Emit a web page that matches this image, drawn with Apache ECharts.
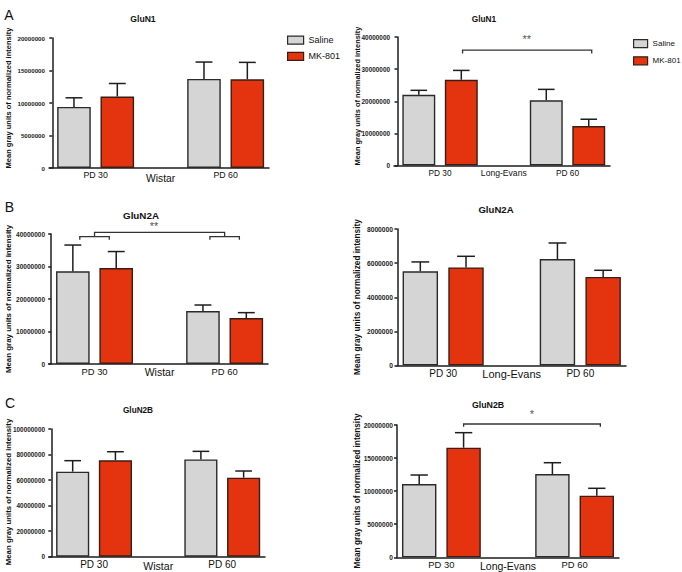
<!DOCTYPE html>
<html><head><meta charset="utf-8">
<script src="https://cdn.jsdelivr.net/npm/echarts@6/dist/echarts.min.js"></script>
<style>html,body{margin:0;padding:0;background:#fff}#c{width:682px;height:572px}</style>
</head><body><div id="c"></div>
<script>
// ---------- data ----------
const groupLabels = ['PD 30', 'PD 60'];
const strainLabels = ['Wistar', 'Long-Evans'];
const seriesNames = ['Saline', 'MK-801'];
const panelTitles = ['GluN1', 'GluN1', 'GluN2A', 'GluN2A', 'GluN2B', 'GluN2B'];
const panelLetters = ['A', 'B', 'C'];
const yAxisTitle = 'Mean gray units of normalized intensity';

// GluN1
const glun1WistarSaline    = [9.4e6, 13.7e6];
const glun1WistarSalineSem = [1.4e6, 2.6e6];
const glun1WistarMK        = [11.0e6, 13.65e6];
const glun1WistarMKSem     = [2.0e6, 2.6e6];
const glun1LESaline        = [22.0e6, 20.3e6];
const glun1LESalineSem     = [1.4e6, 3.4e6];
const glun1LEMK            = [26.7e6, 12.3e6];
const glun1LEMKSem         = [2.9e6, 2.1e6];
// GluN2A
const glun2aWistarSaline    = [28.5e6, 16.3e6];
const glun2aWistarSalineSem = [8.1e6, 1.85e6];
const glun2aWistarMK        = [29.5e6, 14.15e6];
const glun2aWistarMKSem     = [5.1e6, 1.65e6];
const glun2aLESaline        = [5.52e6, 6.24e6];
const glun2aLESalineSem     = [0.55e6, 0.94e6];
const glun2aLEMK            = [5.75e6, 5.19e6];
const glun2aLEMKSem         = [0.65e6, 0.39e6];
// GluN2B
const glun2bWistarSaline    = [66.6e6, 76.2e6];
const glun2bWistarSalineSem = [8.6e6, 6.3e6];
const glun2bWistarMK        = [75.5e6, 61.9e6];
const glun2bWistarMKSem     = [6.7e6, 5.2e6];
const glun2bLESaline        = [11.08e6, 12.59e6];
const glun2bLESalineSem     = [1.36e6, 1.71e6];
const glun2bLEMK            = [16.57e6, 9.32e6];
const glun2bLEMKSem         = [2.27e6, 1.11e6];

// y tick labels
const ticksGluN1Wistar  = [0, 5000000, 10000000, 15000000, 20000000];
const ticksGluN1LE      = [0, 10000000, 20000000, 30000000, 40000000];
const ticksGluN2AWistar = [0, 10000000, 20000000, 30000000, 40000000];
const ticksGluN2ALE     = [0, 2000000, 4000000, 6000000, 8000000];
const ticksGluN2BWistar = [0, 20000000, 40000000, 60000000, 80000000, 100000000];
const ticksGluN2BLE     = [0, 5000000, 10000000, 15000000, 20000000];

// significance annotations
const sigGluN1LE = ['**'];
const sigGluN2AWistar = ['**'];
const sigGluN2BLE = ['*'];

// ---------- layout ----------
const FONT = '"Liberation Sans", Arial, Helvetica, sans-serif';
const SAL_POS = [0.5, 3.5];
const MK_POS = [1.5, 4.5];
const LABEL_POS = [1, 2.5, 4];
const INK = '#1e1e1e';

const panels = [
  {grid:{left:49, top:38, width:220, height:130}, xMin:-0.076, ticks:ticksGluN1Wistar, strain:0,
   sal:glun1WistarSaline, salSem:glun1WistarSalineSem, mk:glun1WistarMK, mkSem:glun1WistarMKSem,
   catFs:8.8, strainFs:10.3, strainDy:3, tickFs:6.2, title:[143,19,8.6], name:[8,98,7.5], letter:0, labMargin:2},
  {grid:{left:394, top:37, width:216, height:128.5}, xMin:-0.084, ticks:ticksGluN1LE, strain:1,
   sal:glun1LESaline, salSem:glun1LESalineSem, mk:glun1LEMK, mkSem:glun1LEMKSem,
   catFs:8.3, strainFs:8.6, strainDy:0, tickFs:6.4, title:[484,19,8.3], name:[357,96,7.4], labMargin:3,
   brackets:[[1.53, 4.57, 35.9e6, 34.9e6]], stars:[[3.04, 39.3e6]], sig:sigGluN1LE},
  {grid:{left:49, top:234, width:219, height:130}, xMin:-0.05, ticks:ticksGluN2AWistar, strain:0,
   sal:glun2aWistarSaline, salSem:glun2aWistarSalineSem, mk:glun2aWistarMK, mkSem:glun2aWistarMKSem,
   catFs:9.4, strainFs:10.5, strainDy:0, tickFs:6.5, title:[141,215,9.8], name:[8,299,7.9], letter:1, labMargin:2.5,
   brackets:[[1, 4, 40.5e6, 39.2e6],[0.66, 1.34, 39.2e6, 38.2e6],[3.66, 4.34, 39.2e6, 38.2e6]],
   stars:[[2.37, 42.4e6]], sig:sigGluN2AWistar},
  {grid:{left:397, top:229, width:229, height:136.5}, xMin:-0.01, ticks:ticksGluN2ALE, strain:1,
   sal:glun2aLESaline, salSem:glun2aLESalineSem, mk:glun2aLEMK, mkSem:glun2aLEMKSem,
   catFs:10, strainFs:11, strainDy:0, tickFs:6.7, title:[496,209,9.6], name:[357,297,8.3], labMargin:2.5},
  {grid:{left:49, top:429, width:216, height:127.7}, xMin:-0.054, ticks:ticksGluN2BWistar, strain:0,
   sal:glun2bWistarSaline, salSem:glun2bWistarSalineSem, mk:glun2bWistarMK, mkSem:glun2bWistarMKSem,
   catFs:10, strainFs:10.6, strainDy:1.5, tickFs:6.4, title:[138,410,8.2], name:[8,492,7.8], letter:2, labMargin:2.5},
  {grid:{left:397, top:425, width:222, height:132.3}, xMin:0, ticks:ticksGluN2BLE, strain:1,
   sal:glun2bLESaline, salSem:glun2bLESalineSem, mk:glun2bLEMK, mkSem:glun2bLEMKSem,
   catFs:9.4, strainFs:10.5, strainDy:0, tickFs:6.6, title:[488,405,8.8], name:[357,491,8.25], labMargin:3,
   brackets:[[1.5, 4.58, 20.15e6, 19.74e6]], stars:[[3.04, 21.6e6]], sig:sigGluN2BLE}
];
const letterPos = [[9,15],[9.5,207],[10,403]];

const axisLineStyle = {color: INK, width: 1.5};
const grids = [], xAxes = [], yAxes = [], series = [], graphics = [];

panels.forEach((p, i) => {
  grids.push(Object.assign({containLabel:false}, p.grid));
  const slotPx = p.grid.width / (5 - p.xMin);
  const barW = slotPx * 0.775;
  xAxes.push({
    type:'value', gridIndex:i, min:p.xMin, max:5,
    axisLine:{show:true, onZero:false, lineStyle:axisLineStyle},
    axisTick:{show:false}, splitLine:{show:false},
    axisLabel:{
      customValues: LABEL_POS, margin:p.labMargin, color:'#111', fontFamily:FONT,
      formatter: v => {
        if (Math.abs(v - 2.5) < 1e-6) return '{s|' + strainLabels[p.strain] + '}';
        return '{p|' + (v < 2.5 ? groupLabels[0] : groupLabels[1]) + '}';
      },
      rich:{
        p:{fontSize:p.catFs, fontFamily:FONT, color:'#111'},
        s:{fontSize:p.strainFs, fontFamily:FONT, color:'#111', padding:[p.strainDy,0,0,0]}
      }
    }
  });
  const t = p.ticks;
  yAxes.push({
    type:'value', gridIndex:i, min:t[0], max:t[t.length-1], interval:t[1]-t[0],
    axisLine:{show:true, lineStyle:axisLineStyle},
    axisTick:{show:true, length:3, lineStyle:axisLineStyle},
    splitLine:{show:false},
    axisLabel:{fontSize:p.tickFs, fontWeight:'bold', margin:4, color:'#222', fontFamily:FONT,
      formatter: v => String(v)}
  });
  series.push({
    type:'bar', name:seriesNames[0], xAxisIndex:i, yAxisIndex:i, barWidth:barW, barGap:'-100%',
    data: p.sal.map((v,k) => [SAL_POS[k], v]), z:3,
    itemStyle:{color:'#d5d5d5', borderColor:'#2a2a2a', borderWidth:1.4}
  });
  series.push({
    type:'bar', name:seriesNames[1], xAxisIndex:i, yAxisIndex:i, barWidth:barW, barGap:'-100%',
    data: p.mk.map((v,k) => [MK_POS[k], v]), z:3,
    itemStyle:{color:'#e3340f', borderColor:'#3a1d14', borderWidth:1.4}
  });
  const errData = [];
  p.sal.forEach((v,k) => errData.push([SAL_POS[k], v, v + p.salSem[k]]));
  p.mk.forEach((v,k) => errData.push([MK_POS[k], v, v + p.mkSem[k]]));
  series.push({
    type:'custom', name:'err'+i, xAxisIndex:i, yAxisIndex:i, z:2, clip:false,
    encode:{x:0, y:[1,2]}, data: errData, silent:true,
    renderItem:(params, api) => {
      const x = api.value(0), m = api.value(1), u = api.value(2);
      const p0 = api.coord([x, m]), p1 = api.coord([x, u]);
      const half = slotPx * 0.195;
      const st = {stroke:INK, lineWidth:1.5};
      return {type:'group', children:[
        {type:'line', shape:{x1:p0[0], y1:p0[1], x2:p1[0], y2:p1[1]}, style:st},
        {type:'line', shape:{x1:p1[0]-half, y1:p1[1], x2:p1[0]+half, y2:p1[1]}, style:st}
      ]};
    }
  });
  if (p.brackets) {
    series.push({
      type:'custom', name:'br'+i, xAxisIndex:i, yAxisIndex:i, z:4, clip:false, silent:true,
      encode:{x:[0,1], y:[2,3]}, data:p.brackets,
      renderItem:(params, api) => {
        const a = api.coord([api.value(0), api.value(3)]);
        const b = api.coord([api.value(0), api.value(2)]);
        const c = api.coord([api.value(1), api.value(2)]);
        const d = api.coord([api.value(1), api.value(3)]);
        return {type:'polyline', shape:{points:[a,b,c,d]}, style:{stroke:'#333', lineWidth:1.3, fill:null}};
      }
    });
    series.push({
      type:'custom', name:'sig'+i, xAxisIndex:i, yAxisIndex:i, z:4, clip:false, silent:true,
      encode:{x:0, y:1}, data:p.stars,
      renderItem:(params, api) => {
        const pt = api.coord([api.value(0), api.value(1)]);
        return {type:'text', x:pt[0], y:pt[1], style:{text:p.sig[params.dataIndex], fontSize:11,
          fontFamily:FONT, fill:'#555', align:'center', verticalAlign:'middle'}};
      }
    });
  }
  graphics.push({type:'text', x:p.title[0], y:p.title[1], silent:true,
    style:{text:panelTitles[i], fontSize:p.title[2], fontWeight:'bold', fontFamily:FONT, fill:'#111',
      align:'center', verticalAlign:'middle'}});
  graphics.push({type:'text', x:p.name[0], y:p.name[1], rotation:Math.PI/2, silent:true,
    style:{text:yAxisTitle, fontSize:p.name[2], fontWeight:'bold', fontFamily:FONT, fill:'#111',
      align:'center', verticalAlign:'middle'}});
  if (p.letter !== undefined) {
    const lp = letterPos[p.letter];
    graphics.push({type:'text', x:lp[0], y:lp[1], silent:true,
      style:{text:panelLetters[p.letter], fontSize:14, fontFamily:FONT, fill:'#111',
        align:'center', verticalAlign:'middle'}});
  }
});

const legendBase = {
  data: seriesNames, orient:'vertical', padding:0, itemHeight:8, icon:'rect',
  selectedMode:false, itemStyle:{borderWidth:1.2}
};

const chart = echarts.init(document.getElementById('c'), null, {renderer:'svg', width:682, height:572});
chart.setOption({
  animation:false,
  backgroundColor:'#fff',
  grid: grids, xAxis: xAxes, yAxis: yAxes, series: series,
  legend:[
    Object.assign({}, legendBase, {left:287, top:35.5, itemWidth:16, itemGap:7,
      textStyle:{fontSize:9, color:'#111', fontFamily:FONT}}),
    Object.assign({}, legendBase, {left:633, top:39, itemWidth:14, itemGap:8,
      textStyle:{fontSize:8, color:'#111', fontFamily:FONT}})
  ],
  graphic: graphics
});
</script>
</body></html>
